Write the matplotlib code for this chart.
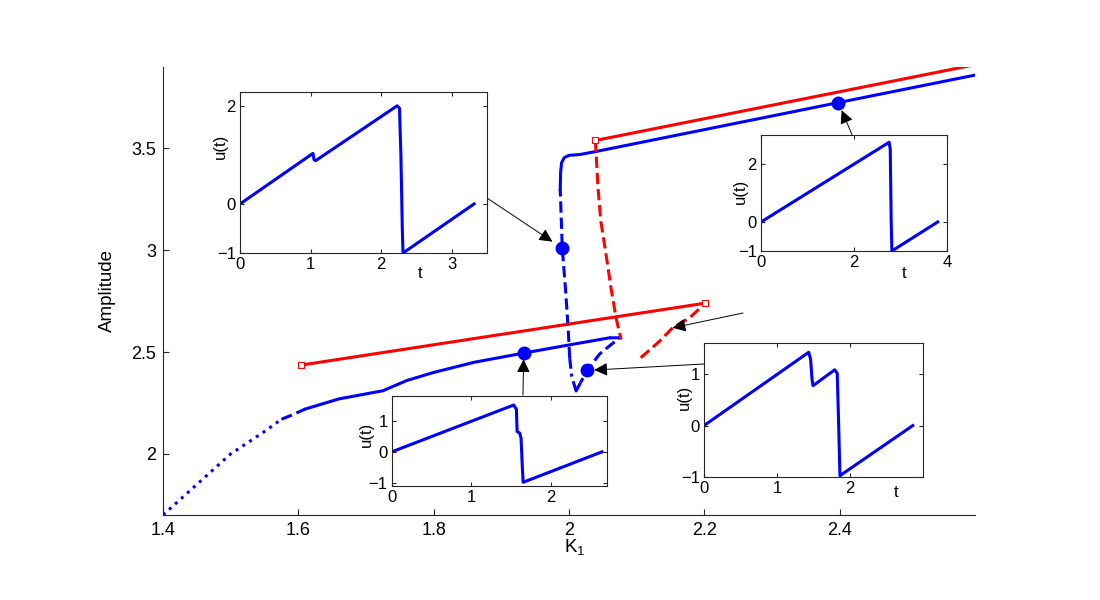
import numpy as np
import matplotlib
matplotlib.use('Agg')
import matplotlib.pyplot as plt

plt.rcParams['font.family'] = ['Liberation Sans', 'DejaVu Sans']
plt.rcParams['font.size'] = 10

# main bifurcation diagram: blue branch, split by line style
blue_dot_K = [1.40, 1.45, 1.50, 1.55, 1.575]
blue_dot_A = [1.70, 1.85, 2.00, 2.11, 2.17]
blue_dash1_K = [1.575, 1.59, 1.61]
blue_dash1_A = [2.17, 2.19, 2.22]
blue_low_K = [1.61, 1.66, 1.725, 1.76, 1.80, 1.86, 1.933, 2.00, 2.06]
blue_low_A = [2.22, 2.27, 2.31, 2.36, 2.40, 2.45, 2.495, 2.535, 2.57]
blue_dash2_K = [2.06, 2.0745, 2.045, 2.027, 2.017]
blue_dash2_A = [2.57, 2.57, 2.49, 2.41, 2.35]
blue_dd_K = [2.017, 2.0105, 2.004, 2.001]
blue_dd_A = [2.35, 2.309, 2.38, 2.47]
blue_dash3_K = [2.001, 1.999, 1.995, 1.990, 1.987]
blue_dash3_A = [2.47, 2.60, 2.80, 3.01, 3.30]
blue_up_K = [1.987, 1.9875, 1.989, 1.993, 2.0, 2.016, 2.04, 2.398, 2.6]
blue_up_A = [3.30, 3.38, 3.43, 3.455, 3.466, 3.47, 3.485, 3.725, 3.86]

# red branches
red_up_K = [2.039, 2.6]
red_up_A = [3.539, 3.911]
red_updash_K = [2.039, 2.0428, 2.047, 2.0547, 2.062, 2.0695, 2.077]
red_updash_A = [3.539, 3.307, 3.142, 2.979, 2.815, 2.668, 2.562]
red_low_K = [1.604, 2.201]
red_low_A = [2.436, 2.74]
red_lowdash_K = [2.106, 2.134, 2.153, 2.178, 2.197]
red_lowdash_A = [2.472, 2.554, 2.619, 2.668, 2.726]

# marked solutions (shown in insets)
dot_K = [1.990, 2.398, 1.933, 2.027]
dot_A = [3.01, 3.725, 2.495, 2.41]

# time series for the insets
ts1_t = [0, 1.033, 1.05, 1.07, 2.227, 2.26, 2.28, 2.30, 2.31, 3.317]
ts1_u = [0, 1.03, 0.90, 0.88, 2.0, 1.95, 1.0, -0.5, -1.0, 0]
ts2_t = [0, 2.757, 2.78, 2.80, 2.815, 3.8]
ts2_u = [0, 2.75, 2.5, 0, -1.0, 0]
ts3_t = [0, 1.532, 1.566, 1.574, 1.608, 1.624, 1.64, 1.65, 2.64]
ts3_u = [0, 1.51, 1.37, 0.66, 0.60, 0.44, -0.5, -0.98, 0]
ts4_t = [0, 1.434, 1.46, 1.48, 1.494, 1.79, 1.825, 1.845, 1.862, 2.86]
ts4_u = [0, 1.433, 1.3, 0.9, 0.78, 1.09, 1.02, 0, -0.98, 0]

blue = '#0000ff'
red = '#ff0000'
lw = 2.2

fig = plt.figure(figsize=(11, 6), dpi=100)
ax = fig.add_axes([0.1482, 0.1417, 0.7382, 0.7467])

ax.plot(blue_dot_K, blue_dot_A, ':', color=blue, lw=lw)
ax.plot(blue_dash1_K, blue_dash1_A, '--', color=blue, lw=lw)
ax.plot(blue_low_K, blue_low_A, '-', color=blue, lw=lw)
ax.plot(blue_dash2_K, blue_dash2_A, '--', color=blue, lw=lw)
ax.plot(blue_dd_K, blue_dd_A, '-.', color=blue, lw=lw)
ax.plot(blue_dash3_K, blue_dash3_A, '--', color=blue, lw=lw)
ax.plot(blue_up_K, blue_up_A, '-', color=blue, lw=lw)

ax.plot(red_up_K, red_up_A, '-', color=red, lw=lw)
ax.plot(red_updash_K, red_updash_A, '--', color=red, lw=lw)
ax.plot(red_low_K, red_low_A, '-', color=red, lw=lw)
ax.plot(red_lowdash_K, red_lowdash_A, '--', color=red, lw=lw)
# fold points
ax.plot([red_up_K[0], red_low_K[0], red_low_K[-1]],
        [red_up_A[0], red_low_A[0], red_low_A[-1]],
        's', mfc='white', mec=red, mew=0.8, ms=5)

ax.plot(dot_K, dot_A, 'o', color=blue, ms=9, ls='none')

ax.set_xlim(1.4, 2.6)
ax.set_ylim(1.7, 3.9)
ax.set_xticks([1.4, 1.6, 1.8, 2.0, 2.2, 2.4])
ax.set_xticklabels(['1.4', '1.6', '1.8', '2', '2.2', '2.4'])
ax.set_yticks([2, 2.5, 3, 3.5])
ax.set_yticklabels(['2', '2.5', '3', '3.5'])
ax.spines['top'].set_visible(False)
ax.spines['right'].set_visible(False)
for s in ['left', 'bottom']:
    ax.spines[s].set_color('#262626')
    ax.spines[s].set_linewidth(0.8)
ax.tick_params(direction='in', length=4, width=0.8, color='#262626',
               labelsize=13, pad=5)
ax.set_xlabel(r'K$_{\mathregular{1}}$', fontsize=13.5)
ax.xaxis.set_label_coords(0.507, -0.05)
ax.set_ylabel('Amplitude', fontsize=13.5)
ax.yaxis.set_label_coords(-0.058, 0.5)


def inset(rect, t, u, xlim, ylim, xticks, yticks, ypos, tpos=None):
    a = fig.add_axes(rect, facecolor='white', zorder=5)
    a.plot(t, u, '-', color=blue, lw=lw)
    a.set_xlim(*xlim)
    a.set_ylim(*ylim)
    a.set_xticks(xticks)
    a.set_yticks(yticks)
    a.tick_params(direction='in', length=3, width=0.8, top=True, right=True,
                  labelsize=12, pad=3, color='#262626')
    for s in a.spines.values():
        s.set_linewidth(0.8)
        s.set_color('#262626')
    a.text(ypos[0], ypos[1], 'u(t)', rotation=90, ha='center', va='center',
           transform=a.transAxes, fontsize=12)
    if tpos is not None:
        a.text(tpos[0], tpos[1], 't', ha='center', va='center',
               transform=a.transAxes, fontsize=12)
    return a


inset([0.2182, 0.5783, 0.2245, 0.2683], ts1_t, ts1_u, (0, 3.5), (-1, 2.28),
      [0, 1, 2, 3], [-1, 0, 2], (-0.08, 0.66), (0.73, -0.125))
inset([0.6918, 0.5817, 0.1691, 0.1933], ts2_t, ts2_u, (0, 4), (-1, 3.0),
      [0, 2, 4], [-1, 0, 2], (-0.11, 0.51), (0.77, -0.19))
inset([0.3561, 0.19, 0.1955, 0.15], ts3_t, ts3_u, (0, 2.7), (-1.1, 1.8),
      [0, 1, 2], [-1, 0, 1], (-0.12, 0.57))
inset([0.64, 0.2055, 0.1991, 0.2233], ts4_t, ts4_u, (0, 3), (-1, 1.62),
      [0, 1, 2], [-1, 0, 1], (-0.09, 0.59), (0.877, -0.12))

# arrows from insets to the marked points
arrows = [
    ((dot_K[0], dot_A[0]), (487, 402), 8.5),
    ((dot_K[1], dot_A[1]), (853, 463), 6),
    ((dot_K[2], dot_A[2]), (523, 205), 4.5),
    ((dot_K[3], dot_A[3]), (704, 236), 5),
    ((red_lowdash_K[2], red_lowdash_A[2]), (743, 287), 0),
]
for xy, tail, shrink in arrows:
    ax.annotate('', xy=xy, xycoords='data', xytext=tail,
                textcoords='figure pixels', zorder=6,
                arrowprops=dict(arrowstyle='-|>', color='black', lw=0.7,
                                mutation_scale=20, shrinkA=0, shrinkB=shrink))

fig.savefig('out.png', dpi=100)
